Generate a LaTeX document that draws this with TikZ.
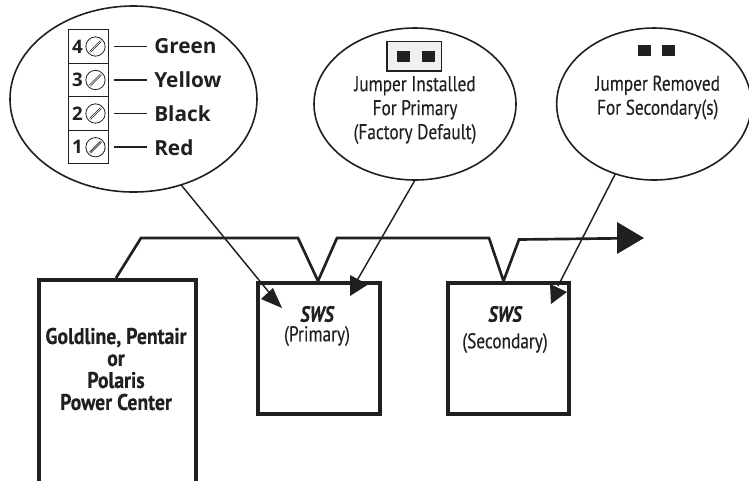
\documentclass[tikz,border=0pt]{standalone}
\usepackage{fontspec}
\usetikzlibrary{shapes.geometric,calc}
\setmainfont{PT Sans}
\newfontfamily\condf[FakeStretch=0.81,FakeBold=0.2]{PT Sans}
\newfontfamily\boldf[FakeStretch=0.87,FakeBold=0.4]{PT Sans Bold}
\newfontfamily\swsf[FakeStretch=0.82,FakeBold=0.4]{PT Sans Bold Italic}
\newfontfamily\labf{Open Sans}
\definecolor{ink}{HTML}{231F20}
\tikzset{
  x=0.75pt,y=-0.75pt,
  bubble/.style={draw=ink,line width=1.2pt,ellipse,inner sep=0pt,outer sep=0pt,fill=white},
  unitbox/.style={draw=ink,line width=3pt,inner sep=0pt,outer sep=0pt,fill=white},
  wire/.style={draw=ink,line width=2pt,line join=miter},
  leader/.style={draw=ink,line width=1.1pt},
  headfill/.style={fill=ink,draw=none},
  padbox/.style={fill=ink,draw=none,inner sep=0pt,minimum width=9.6pt,minimum height=8.2pt},
  termbox/.style={draw=ink,line width=0.7pt,inner sep=0pt,minimum width=29.6pt,minimum height=25.1pt},
  screwhead/.style={draw=ink,line width=0.6pt,circle,inner sep=0pt,minimum size=14.5pt},
  captext/.style={font=\condf\fontsize{16}{18}\selectfont,text=ink,align=center},
  swstext/.style={font=\swsf\fontsize{16.5}{18}\selectfont,text=ink},
  wirelab/.style={font=\labf\bfseries\fontsize{15.6}{18}\selectfont,text=ink,anchor=west,inner sep=0pt},
  numtext/.style={font=\labf\fontsize{14}{16}\selectfont\bfseries,text=ink}
}
\begin{document}
\begin{tikzpicture}
\useasboundingbox (0,0) rectangle (749,480);
% bubbles
\node[bubble,minimum width=185.25pt,minimum height=139.5pt] (e1) at (133.5,99) {};
\node[bubble,minimum width=151.5pt,minimum height=114pt] (e2) at (415,104) {};
\node[bubble,minimum width=146pt,minimum height=114pt] (e3) at (654,104) {};
% wire
\coordinate (wstart) at (116,278);
\coordinate (wend) at (620,238.3);
\draw[wire] (wstart) -- (141,238) -- (298,238) -- (318,281) -- (337,238) -- (489,238) -- (503.5,281) -- (519,239.5) -- (wend);
% boxes
\node[unitbox,minimum width=91pt,minimum height=98pt] (prim) at (319,348.5) {};
\node[unitbox,minimum width=91pt,minimum height=98pt] (sec) at (508.2,348.5) {};
\node[unitbox,line width=3.3pt,minimum width=117.75pt,minimum height=157.5pt] (pow) at (117.5,385) {};
% arrowhead of wire
\fill[headfill] (617,222) -- (644,238) -- (617,254) -- cycle;
% leaders
\coordinate (t1) at (272,296);
\coordinate (t2) at (355,284);
\coordinate (t3) at (558,286);
\draw[leader] (e1.-61.6) -- (t1);
\draw[leader] (e2.south) -- (t2);
\draw[leader] (e3.-119) -- (t3);
\fill[headfill] (282,308) -- (261,299) -- (273,288) -- cycle;
\fill[headfill] (368,284.5) -- (350,275) -- (350,296) -- cycle;
\fill[headfill] (567,292) -- (550,284) -- (551,304) -- cycle;
% terminal block
\foreach \n/\y/\c/\lab in {t4/46.5/4/Green,t3b/80/3/Yellow,t2b/113.5/2/Black,t1b/147.2/1/Red}{
  \node[termbox] (\n) at (88.3,\y) {};
  \node[numtext] (\n num) at (77.5,\y) {\c};
  \node[screwhead] (\n s) at (95.5,\y) {};
  \draw[ink,line width=0.5pt] ($(\n s)+(-6,5)$) -- ($(\n s)+(5,-6)$);
  \draw[ink,line width=0.5pt] ($(\n s)+(-5,6)$) -- ($(\n s)+(6,-5)$);
  \coordinate (\n a) at (114,\y);
  \coordinate (\n b) at (147,\y);
  \draw[ink,line width=1.1pt] (\n a) -- (\n b);
  \node[wirelab] (\n l) at (154,\y) {\lab};
}
% jumpers
\node[draw=ink,line width=0.9pt,fill=black!6,minimum width=41pt,minimum height=22pt,inner sep=0pt] (jb) at (414.3,56.3) {};
\node[padbox] (p1) at (403.5,56.7) {};
\node[padbox] (p2) at (428.5,56.7) {};
\node[padbox] (p3) at (644.3,50.5) {};
\node[padbox] (p4) at (668.5,50.5) {};
% captions
\node[captext] (c2) at (415,110) {Jumper Installed\\For Primary\\(Factory Default)};
\node[captext] (c3) at (657.7,97.5) {Jumper Removed\\For Secondary(s)};
\node[swstext] (s1) at (317,314) {SWS};
\node[captext] (s1b) at (317,336) {(Primary)};
\node[swstext] (s2) at (505,314) {SWS};
\node[captext] (s2b) at (505,343) {(Secondary)};
\node[font=\boldf\fontsize{17}{16.5}\selectfont,text=ink,align=center] (pl) at (116,369) {Goldline, Pentair\\or\\Polaris\\Power Center};
\end{tikzpicture}
\end{document}
